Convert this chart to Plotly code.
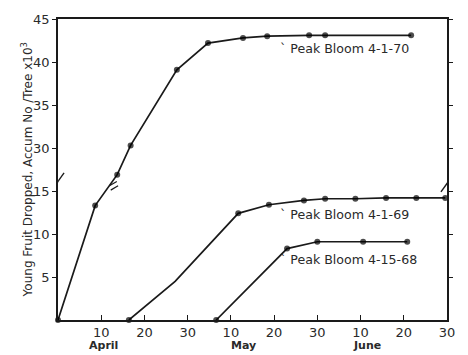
import plotly.graph_objects as go

# ---- data (x = days from 31 March on a uniform 10-day tick scale; y = accum. no./tree x10^3)
x70 = [0, 8.6, 13.7, 16.8, 27.5, 34.7, 42.8, 48.4, 58.1, 61.8, 81.7]
y70 = [0, 13.3, 26.9, 30.3, 39.1, 42.2, 42.8, 43.0, 43.1, 43.1, 43.1]
m70 = [1, 1, 1, 1, 1, 1, 1, 1, 1, 1, 1]

x69 = [16.4, 27.1, 41.7, 48.8, 56.9, 61.8, 68.8, 75.9, 82.9, 89.6]
y69 = [0, 4.5, 12.4, 13.4, 13.9, 14.1, 14.1, 14.2, 14.2, 14.2]
m69 = [1, 0, 1, 1, 1, 1, 1, 1, 1, 1]

x68 = [36.6, 53.0, 60.0, 70.6, 80.8]
y68 = [0, 8.3, 9.1, 9.1, 9.1]
m68 = [1, 1, 1, 1, 1]

labels = ["Peak Bloom 4-1-70", "Peak Bloom 4-1-69", "Peak Bloom 4-15-68"]
label_pos = [(50.8, 41.6), (50.8, 12.3), (50.8, 7.0)]

xtick_vals = [10, 20, 30, 40, 50, 60, 70, 80, 90]
xtick_text = ["10", "20", "30", "10", "20", "30", "10", "20", "30"]
months = [("April", 10.5), ("May", 43.0), ("June", 71.5)]

ytick_real = [5, 10, 15, 30, 35, 40, 45]
ytick_text = ["5", "10", "15", "30", "35", "40", "45"]

BREAK_AT = 20      # values above this are on the upper (shifted) segment
BREAK_SHIFT = 10   # amount removed by the axis break


def brk(v):
    return v if v < BREAK_AT else v - BREAK_SHIFT


INK = "#1a1a1a"
TXT = "#2a2a2a"
fig = go.Figure()
for xs, ys, ms in [(x70, y70, m70), (x69, y69, m69), (x68, y68, m68)]:
    fig.add_trace(go.Scatter(
        x=xs, y=[brk(v) for v in ys], mode="lines+markers",
        line=dict(color=INK, width=1.7),
        marker=dict(color="#000000", size=[6 * m for m in ms], line=dict(width=0)),
        showlegend=False, cliponaxis=False))

for txt, (lx, ly) in zip(labels, label_pos):
    fig.add_annotation(x=lx, y=brk(ly), text="` " + txt, showarrow=False,
                       xanchor="left", yanchor="middle",
                       font=dict(family="DejaVu Sans", size=12.6, color=TXT))

for name, mx in months:
    fig.add_annotation(x=mx, y=0, yshift=-25, text="<b>" + name + "</b>", showarrow=False,
                       xanchor="center", yanchor="middle",
                       font=dict(family="DejaVu Sans", size=11, color=TXT))

fig.add_annotation(xref="paper", yref="paper", x=-0.08, y=0.50,
                   text="Young Fruit Dropped, Accum No /Tree x10<sup>3</sup>",
                   textangle=-90, showarrow=False, xanchor="center", yanchor="middle",
                   font=dict(family="DejaVu Sans", size=12, color=TXT))

# axis-break slash marks (decoration)
def slash(xc, yc, dx=1.0, dy=0.7):
    return dict(type="line", xref="x", yref="y", x0=xc - dx, y0=yc - dy,
                x1=xc + dx, y1=yc + dy, line=dict(color=INK, width=1.4))

fig.update_layout(shapes=[
    slash(0.4, 16.4), slash(89.6, 15.6),
    dict(type="line", xref="x", yref="y", x0=11.9, y0=15.6, x1=13.6, y1=16.1,
         line=dict(color=INK, width=1.2)),
    dict(type="line", xref="x", yref="y", x0=12.2, y0=15.1, x1=13.9, y1=15.6,
         line=dict(color=INK, width=1.2)),
])

fig.update_xaxes(range=[0, 90], tickvals=xtick_vals, ticktext=xtick_text,
                 showline=True, linecolor=INK, linewidth=1.6, mirror=True,
                 ticks="inside", ticklen=5, tickcolor=INK, showgrid=False,
                 zeroline=False, tickfont=dict(family="DejaVu Sans", size=13, color=TXT))
fig.update_yaxes(range=[0, 35], tickvals=[brk(v) for v in ytick_real], ticktext=ytick_text,
                 showline=True, linecolor=INK, linewidth=1.6, mirror="ticks",
                 ticks="outside", ticklen=4, tickcolor=INK, showgrid=False,
                 zeroline=False, tickfont=dict(family="DejaVu Sans", size=13, color=TXT))

fig.update_layout(width=468, height=355, margin=dict(l=58, r=21, t=13, b=35),
                  paper_bgcolor="white", plot_bgcolor="white")

fig.write_html("out.html")
